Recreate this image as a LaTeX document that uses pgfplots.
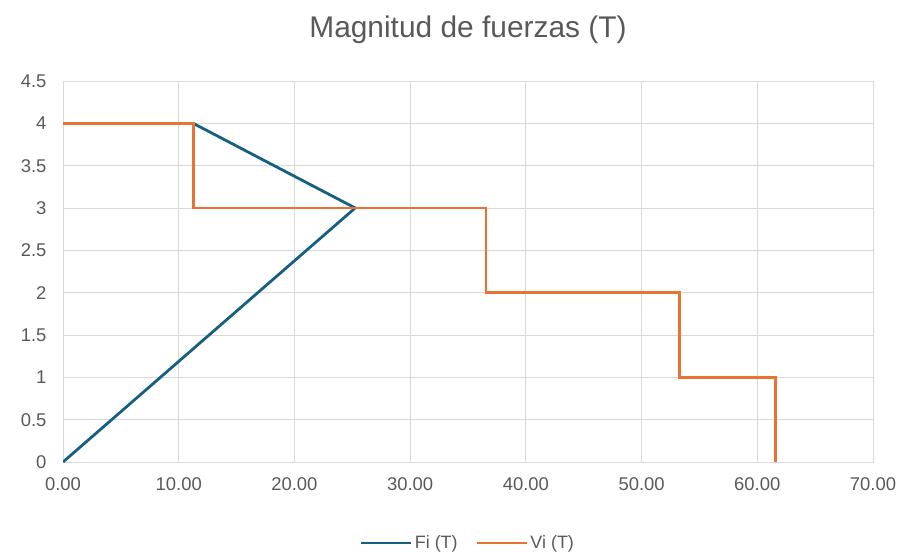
\documentclass[border=0pt]{standalone}
\usepackage{pgfplots}
\pgfplotsset{compat=1.18}
\usepackage{fontspec}
\setmainfont{Liberation Sans}
\definecolor{fiblue}{HTML}{156082}
\definecolor{viorange}{HTML}{E97132}
\definecolor{txtgray}{HTML}{595959}
\definecolor{gridgray}{HTML}{D9D9D9}

\pgfplotstableread{
x y
0.00 0
25.25 3
11.25 4
}\fidata

\pgfplotstableread{
x y
0.00 4
11.25 4
11.25 3
36.55 3
36.55 2
53.30 2
53.30 1
61.60 1
61.60 0
}\vidata

\begin{document}
\begin{tikzpicture}
\begin{axis}[
  name=ax,
  scale only axis,
  width=810bp, height=381bp,
  xmin=0, xmax=70, ymin=0, ymax=4.5,
  xtick={0,10,...,70},
  ytick={0,0.5,...,4.5},
  yticklabels={0,0.5,1,1.5,2,2.5,3,3.5,4,4.5},
  x tick label style={/pgf/number format/fixed, /pgf/number format/fixed zerofill, /pgf/number format/precision=2},
  /pgf/number format/assume math mode=true,
  grid=major,
  major grid style={gridgray, line width=0.9bp},
  axis line style={gridgray, line width=0.9bp},
  major tick length=0pt,
  tick label style={font=\fontsize{18.5}{21}\selectfont, text=txtgray},
  xticklabel style={yshift=-12bp},
  yticklabel style={xshift=-13bp},
  title={Magnitud de fuerzas (T)},
  title style={font=\fontsize{30}{34}\selectfont, text=txtgray, at={(0.5,1)}, anchor=center, yshift=45bp},
  legend columns=2,
  legend style={at={(0.5,-0.2126)}, anchor=center, draw=none, fill=none,
    font=\fontsize{18}{21}\selectfont, text=txtgray,
    /tikz/every even column/.append style={column sep=16bp}},
  legend image code/.code={\draw[#1] (0bp,0bp) -- (50bp,0bp);},
]
\addplot[fiblue, line width=2.8bp, line join=round] table[x=x, y=y] {\fidata};
\addlegendentry{Fi (T)}
\addplot[viorange, line width=2.8bp, line join=miter] table[x=x, y=y] {\vidata};
\addlegendentry{Vi (T)}
\end{axis}
\pgfresetboundingbox
\path ([shift={(-63bp,-94bp)}]ax.south west) rectangle ([shift={(30bp,81bp)}]ax.north east);
\end{tikzpicture}
\end{document}
